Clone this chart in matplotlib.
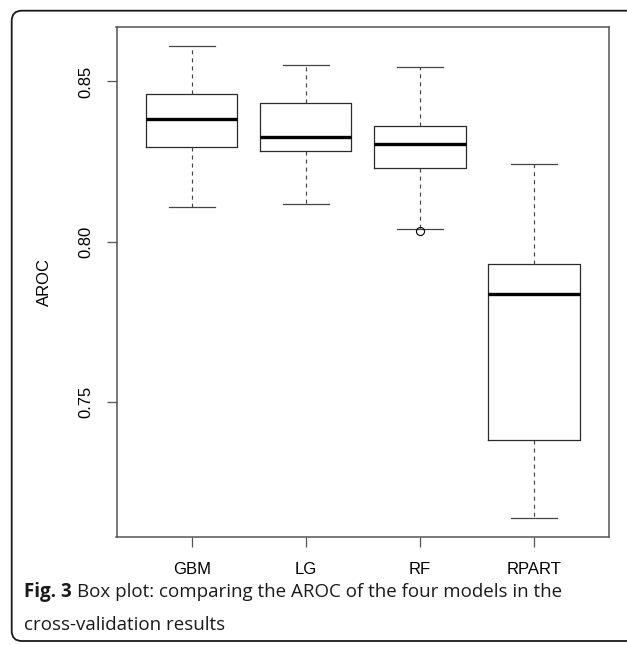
import matplotlib
matplotlib.use("Agg")
import matplotlib.pyplot as plt
from matplotlib.patches import FancyBboxPatch

# values (AROC per model, cross-validation)
models = ["GBM", "LG", "RF", "RPART"]
whisk_hi = [0.8612, 0.8550, 0.8544, 0.8243]
q3 = [0.8461, 0.8433, 0.8360, 0.7932]
medians = [0.8382, 0.8328, 0.8304, 0.7838]
q1 = [0.8297, 0.8282, 0.8230, 0.7381]
whisk_lo = [0.8109, 0.8117, 0.8040, 0.7140]
outliers = [[], [], [0.8033], []]
y_ticks = [0.75, 0.80, 0.85]

W, H = 627, 645
fig = plt.figure(figsize=(W / 100, H / 100), dpi=100)
ax = fig.add_axes([116.5 / W, 1 - 536.5 / H, (609.3 - 116.5) / W, (536.5 - 26.7) / H])

stats = []
for i, name in enumerate(models):
    stats.append(dict(label=name, med=medians[i], q1=q1[i], q3=q3[i],
                      whislo=whisk_lo[i], whishi=whisk_hi[i], fliers=outliers[i]))

line_col = "#2b2b2b"
ax.bxp(stats, positions=range(1, len(models) + 1), widths=0.8,
       boxprops=dict(color=line_col, lw=0.9),
       medianprops=dict(color="black", lw=2.4, solid_capstyle="butt"),
       whiskerprops=dict(color="#444444", lw=0.85, linestyle=(0, (3.4, 3.4))),
       capprops=dict(color="#444444", lw=0.9),
       capwidths=0.4,
       flierprops=dict(marker="o", markersize=5.8, markerfacecolor="none",
                       markeredgecolor="black", markeredgewidth=0.8))

# R-style limits: data range padded by 4%
lo = min(whisk_lo + [v for o in outliers for v in o])
hi = max(whisk_hi)
r = hi - lo
ax.set_ylim(lo - 0.04 * r, hi + 0.04 * r)
ax.set_xlim(0.5 - 0.16, len(models) + 0.5 + 0.16)

ax.set_yticks(y_ticks)
ax.set_yticklabels([f"{t:.2f}" for t in y_ticks], rotation=90, va="center",
                   fontfamily="Liberation Sans", fontsize=12)
ax.set_xticks(range(1, len(models) + 1))
ax.set_xticklabels(models, fontfamily="Liberation Sans", fontsize=12)
ax.tick_params(axis="both", direction="out", length=7.5, width=0.9, color="#555555")
ax.tick_params(axis="y", pad=9)
ax.tick_params(axis="x", pad=11)
for s in ax.spines.values():
    s.set_color("#555555")
    s.set_linewidth(1.1)

fig.text(44 / W, 1 - 282 / H, "AROC", rotation=90, ha="center", va="center",
         fontfamily="Liberation Sans", fontsize=12)

# rounded frame around the figure panel (open to the right)
frame = FancyBboxPatch((11.7 / W, 1 - 641 / H), 1.2, (641 - 10.7) / H,
                       boxstyle="round,pad=0,rounding_size=0.016",
                       transform=fig.transFigure, fill=False,
                       edgecolor="#1a1a1a", lw=1.3, clip_on=False)
fig.add_artist(frame)

# caption: bold "Fig. 3" followed by regular text
cap_size = 13.5
t1 = fig.text(24 / W, 1 - 592 / H, "Fig. 3", fontfamily="Open Sans", fontweight="bold",
              fontsize=cap_size, va="center", ha="left", color="#1a1a1a")
renderer = fig.canvas.get_renderer()
bb = t1.get_window_extent(renderer)
fig.text(bb.x1 / W + 5 / W, 1 - 592 / H,
         "Box plot: comparing the AROC of the four models in the",
         fontfamily="Open Sans", fontsize=cap_size, va="center", ha="left", color="#1a1a1a")
fig.text(24 / W, 1 - 625 / H, "cross-validation results", fontfamily="Open Sans",
         fontsize=cap_size, va="center", ha="left", color="#1a1a1a")

fig.savefig("out.png", dpi=100)
